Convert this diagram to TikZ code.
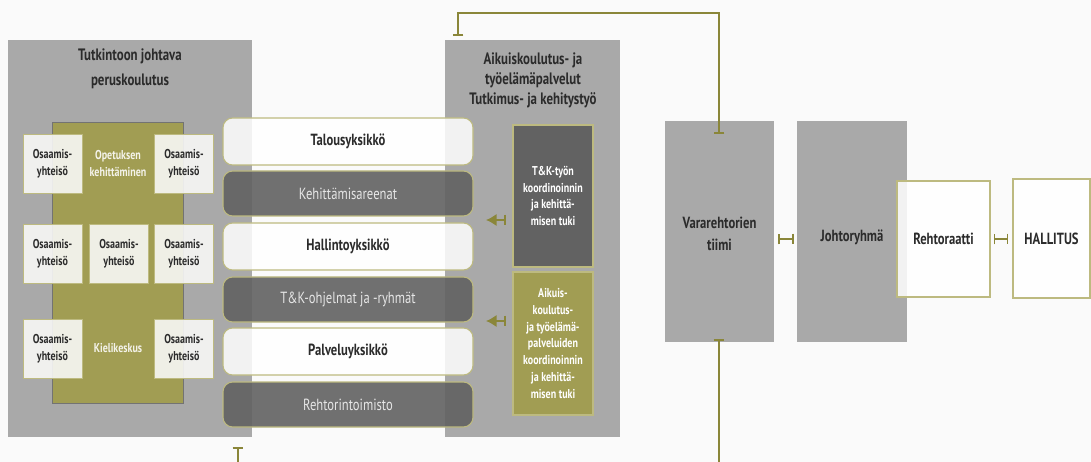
\documentclass[tikz,border=0pt]{standalone}
\usepackage{xcolor}
\usepackage{fontspec}
\setmainfont{PT Sans}[FakeStretch=0.78]
\usetikzlibrary{arrows.meta}

\definecolor{panelgray}{HTML}{A9A9A9}
\definecolor{olivefill}{HTML}{A19D53}
\definecolor{oliveline}{HTML}{8A8639}
\definecolor{oliveedge}{HTML}{BDBA80}
\definecolor{darkbar}{HTML}{626262}
\definecolor{boxwhite}{HTML}{F8F8F6}
\definecolor{inktext}{HTML}{2B2B2B}
\definecolor{lighttext}{HTML}{E6E6E6}
\newcommand\pxu{0.02cm}

\begin{document}
\begin{tikzpicture}[x=0.02cm,y=-0.02cm,
        boxsize/.style 2 args={minimum width=#1*\pxu,minimum height=#2*\pxu,inner sep=0pt},
        panel/.style={fill=panelgray,draw=none},
        title/.style={text=inktext,align=center,font=\fontsize{9.4}{14}\selectfont\bfseries},
        smallbox/.style={fill=boxwhite,fill opacity=0.9,text opacity=1,draw=oliveedge,line width=0.5pt,
            text=inktext,align=center,font=\fontsize{7.3}{9.6}\selectfont\bfseries},
        litebar/.style={fill=white,fill opacity=0.85,text opacity=1,draw=oliveedge,line width=0.6pt,
            rounded corners=5.5pt,text=inktext,font=\fontsize{9.2}{10}\selectfont\bfseries},
        darkbarbox/.style={fill=darkbar,fill opacity=0.9,text opacity=1,draw=oliveedge,line width=0.6pt,
            rounded corners=5.5pt,text=lighttext,font=\fontsize{9.2}{10}\selectfont},
        supportbox/.style={draw=oliveedge,line width=0.6pt,text=white,align=center,
            font=\fontsize{7.3}{9.5}\selectfont\bfseries},
        whitebox/.style={fill=white,fill opacity=0.85,text opacity=1,draw=oliveedge,line width=0.8pt,
            text=inktext,font=\fontsize{9.2}{10}\selectfont\bfseries},
        linkbar/.style={draw=oliveline,line width=1pt,{Bar[width=6pt]}-{Bar[width=6pt]}},
        barstart/.style={draw=oliveline,line width=1pt,{Bar[width=6pt]}-},
        backarrow/.style={draw=oliveline,line width=1pt,{Bar[width=6pt]}-{Latex[length=6pt,width=7pt]}}
    ]
    \fill[white!98!black] (0,0) rectangle (1091,462);
    \useasboundingbox (0,0) rectangle (1091,462);

    \node[panel,boxsize={244}{397}] (perus) at (130,238.5) {};
    \node[title] (perustitle) at (130,69) {Tutkintoon johtava\\peruskoulutus};

    \node[fill=olivefill,draw=black!55,line width=0.5pt,boxsize={131}{281}] (opetus) at (117.5,262.5) {};

    \node[smallbox,boxsize={59}{59}] (osa1) at (52.5,163.5) {Osaamis-\\yhteisö};
    \node[smallbox,boxsize={59}{59}] (osa2) at (184,163.5) {Osaamis-\\yhteisö};
    \node[smallbox,boxsize={59}{59}] (osa3) at (52.5,253.5) {Osaamis-\\yhteisö};
    \node[smallbox,boxsize={59}{59}] (osa4) at (119,253.5) {Osaamis-\\yhteisö};
    \node[smallbox,boxsize={59}{59}] (osa5) at (184,253.5) {Osaamis-\\yhteisö};
    \node[smallbox,boxsize={59}{59}] (osa6) at (52.5,348.5) {Osaamis-\\yhteisö};
    \node[smallbox,boxsize={59}{59}] (osa7) at (184,348.5) {Osaamis-\\yhteisö};

    \node[text=white!88!olivefill,align=center,font=\fontsize{7.3}{9.6}\selectfont\bfseries] (opetustext) at (118,163.5) {Opetuksen\\kehittäminen};
    \node[text=white!88!olivefill,font=\fontsize{7.3}{9.6}\selectfont\bfseries] (kieli) at (118,348.5) {Kielikeskus};

    \node[panel,boxsize={175}{397}] (aikuis) at (532.5,238.5) {};
    \node[title,font=\fontsize{9.4}{11.3}\selectfont\bfseries] (aikuistitle) at (533,80) {Aikuiskoulutus- ja\\työelämäpalvelut\\Tutkimus- ja kehitystyö};

    \node[litebar,boxsize={250}{47}] (talous) at (348,141.5) {Talousyksikkö};
    \node[darkbarbox,boxsize={250}{45}] (areenat) at (348,193.5) {Kehittämisareenat};
    \node[litebar,boxsize={250}{47}] (hallinto) at (348,246.5) {Hallintoyksikkö};
    \node[darkbarbox,boxsize={250}{45}] (ohjelmat) at (348,299.5) {T\&K-ohjelmat ja -ryhmät};
    \node[litebar,boxsize={250}{47}] (palvelu) at (348,351.5) {Palveluyksikkö};
    \node[darkbarbox,boxsize={250}{45}] (toimisto) at (348,404.5) {Rehtorintoimisto};

    \node[supportbox,fill=darkbar,boxsize={80}{142}] (tktuki) at (553,196) {T\&K-työn\\koordinoinnin\\ja kehittä-\\misen tuki};
    \node[supportbox,fill=olivefill,boxsize={80}{143}] (aikuistuki) at (553,343.5) {Aikuis-\\koulutus-\\ja työelämä-\\palveluiden\\koordinoinnin\\ja kehittä-\\misen tuki};

    \coordinate (tkfrom) at (506,220);
    \coordinate (tkto) at (486,220);
    \coordinate (aikfrom) at (506,321);
    \coordinate (aikto) at (486,321);
    \draw[backarrow] (tkfrom) -- (tkto);
    \draw[backarrow] (aikfrom) -- (aikto);

    \node[panel,boxsize={109}{221}] (vara) at (719.5,231.5) {};
    \node[text=inktext,align=center,font=\fontsize{9.2}{12.5}\selectfont\bfseries] (varatext) at (719.5,234) {Vararehtorien\\tiimi};
    \node[panel,boxsize={110}{221}] (johto) at (852,231.5) {};
    \node[text=inktext,font=\fontsize{9.2}{10}\selectfont\bfseries] (johtotext) at (852,237) {Johtoryhmä};
    \node[whitebox,boxsize={93}{116}] (rehto) at (943.5,239) {Rehtoraatti};
    \node[whitebox,boxsize={77}{119}] (hallitus) at (1051.5,238.5) {HALLITUS};

    \draw[linkbar] ([xshift=4*\pxu]vara.east |- rehto) -- ([xshift=-3*\pxu]johto.west |- rehto);
    \draw[linkbar] ([xshift=3*\pxu]rehto.east) -- ([xshift=-4*\pxu]hallitus.west |- rehto);

    \coordinate (topleft) at (458,36);
    \coordinate (topright) at (719,134);
    \draw[linkbar] (topleft) -- ++(0,-23) -| (topright);

    \coordinate (varabot) at (719,339);
    \draw[barstart] (varabot) -- (719,462);
    \coordinate (perusbot) at (238,447);
    \draw[barstart] (perusbot) -- (238,462);
\end{tikzpicture}
\end{document}
